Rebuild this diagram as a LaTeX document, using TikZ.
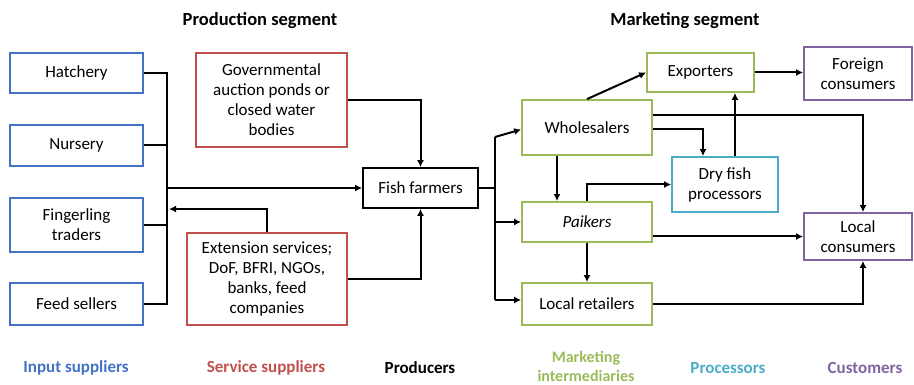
\documentclass[tikz,border=0pt]{standalone}
\usepackage{fontspec}
\setmainfont{Carlito}
\usetikzlibrary{arrows.meta}
\definecolor{cblue}{RGB}{68,114,196}
\definecolor{cred}{RGB}{192,80,77}
\definecolor{cgreen}{RGB}{155,187,89}
\definecolor{ccyan}{RGB}{75,172,198}
\definecolor{cpurple}{RGB}{128,100,162}
\tikzset{
  box/.style={draw, line width=1.8pt, align=center, inner sep=1pt, font=\fontsize{17}{20}\selectfont},
  inbox/.style={box, draw=cblue, minimum width=133pt},
  svbox/.style={box, draw=cred},
  prbox/.style={box, draw=black},
  mkbox/.style={box, draw=cgreen, minimum width=130pt},
  pcbox/.style={box, draw=ccyan},
  cubox/.style={box, draw=cpurple},
  conn/.style={line width=2pt, black},
  arr/.style={conn, -{Latex[length=7pt,width=7pt]}},
  title/.style={font=\fontsize{18.5}{22}\selectfont\bfseries},
  legend/.style={font=\fontsize{17}{20}\selectfont\bfseries, align=center}
}
\begin{document}
\begin{tikzpicture}[x=1pt,y=-1pt]
\useasboundingbox (0,0) rectangle (914,385);
% titles
\node[title] (tprod) at (260,21) {Production segment};
\node[title] (tmark) at (685,21) {Marketing segment};
% input suppliers
\node[inbox, minimum height=40pt] (hat) at (76.5,73) {Hatchery};
\node[inbox, minimum height=41pt] (nur) at (76.5,145.5) {Nursery};
\node[inbox, minimum height=54pt] (fin) at (76.5,225) {Fingerling\\traders};
\node[inbox, minimum height=42pt] (fee) at (76.5,304) {Feed sellers};
% service suppliers
\node[svbox, minimum width=151pt, minimum height=94pt] (gov) at (271.5,100) {Governmental\\auction ponds or\\closed water\\bodies};
\node[svbox, minimum width=160pt, minimum height=92pt] (ext) at (267,279) {Extension services;\\DoF, BFRI, NGOs,\\banks, feed\\companies};
% producers
\node[prbox, minimum width=115pt, minimum height=40pt] (farm) at (420.5,188) {Fish farmers};
% marketing intermediaries
\node[mkbox, minimum height=55pt] (whl) at (587,127.5) {Wholesalers};
\node[mkbox, minimum height=40pt] (pai) at (587,222) {\itshape Paikers};
\node[mkbox, minimum height=42pt] (ret) at (587,304) {Local retailers};
\node[mkbox, minimum width=107pt, minimum height=39pt] (exp) at (700.5,72.5) {Exporters};
% processors
\node[pcbox, minimum width=106pt, minimum height=55pt] (dry) at (725,184.5) {Dry fish\\processors};
% customers
\node[cubox, minimum width=108pt, minimum height=53pt] (for) at (858,73.5) {Foreign\\consumers};
\node[cubox, minimum width=108pt, minimum height=47pt] (loc) at (858,236.5) {Local\\consumers};
% legend
\node[legend, text=cblue] (l1) at (76,368) {Input suppliers};
\node[legend, text=cred] (l2) at (266,368) {Service suppliers};
\node[legend, text=black] (l3) at (420,368) {Producers};
\node[legend, text=cgreen, font=\fontsize{16}{19}\selectfont\bfseries] (l4) at (586,366) {Marketing\\intermediaries};
\node[legend, text=ccyan] (l5) at (728,368) {Processors};
\node[legend, text=cpurple] (l6) at (865,368) {Customers};
% input bus
\coordinate (b1) at (167,73);
\coordinate (b4) at (167,304);
\coordinate (bm) at (167,188);
\coordinate (br) at (169,209);
\draw[conn] (hat.east) -- (b1) -- (b4) -- (fee.east);
\draw[conn] (nur.east) -- (nur.east -| b1);
\draw[conn] (fin.east) -- (fin.east -| b1);
\draw[arr] (bm) -- (farm.west);
\draw[arr] (ext.north) |- (br);
% services to farmers
\draw[arr] (gov.east) -| (farm.north);
\draw[arr] (ext.east) -| (farm.south);
% farmer distribution
\coordinate (fj) at (495,188);
\coordinate (ft) at (495,137);
\coordinate (fb) at (495,300);
\draw[conn] (farm.east) -- (fj);
\draw[conn] (ft) -- (fb);
\draw[arr] (ft) -- ([yshift=-2pt]whl.west);
\draw[arr] (pai.west -| fj) -- (pai.west);
\draw[arr] (fb) -- (fb -| ret.west);
% within marketing
\draw[arr] ([xshift=-30pt]whl.south) -- ([xshift=-30pt]pai.north);
\draw[arr] (pai.south) -- (ret.north);
\draw[arr] (whl.north) -- (exp.west);
\draw[arr] (exp.east) -- (exp.east -| for.west);
\draw[arr] ([yshift=12pt]whl.east) -| ([xshift=5pt]loc.north);
\draw[arr] ([yshift=-1.5pt]whl.east) -| ([xshift=-22pt]dry.north);
\draw[arr] ([xshift=10pt]dry.north) -- ([xshift=10pt]dry.north |- exp.south);
\draw[arr] (pai.north) |- (dry.west);
\draw[arr] (pai.east |- loc.west) -- (loc.west);
\draw[arr] (ret.east) -| ([xshift=5pt]loc.south);
\end{tikzpicture}
\end{document}
